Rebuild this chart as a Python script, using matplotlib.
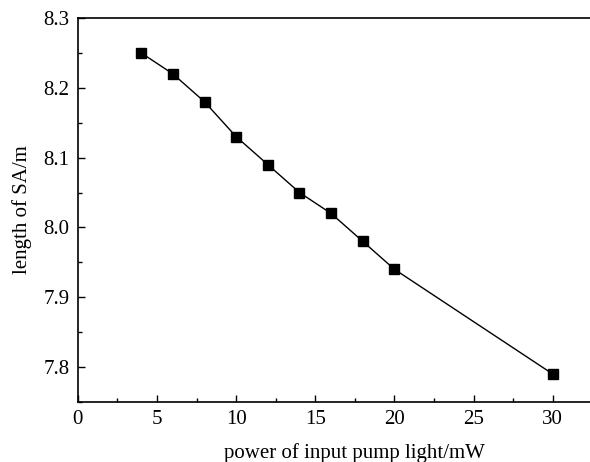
import matplotlib
matplotlib.use("Agg")
import matplotlib.pyplot as plt
from matplotlib.ticker import MultipleLocator

# pump power (mW) vs SA length (m)
power = [4, 6, 8, 10, 12, 14, 16, 18, 20, 30]
length = [8.25, 8.22, 8.18, 8.13, 8.09, 8.05, 8.02, 7.98, 7.94, 7.79]

plt.rcParams["font.family"] = ["Liberation Serif", "DejaVu Serif"]
plt.rcParams["font.size"] = 15

fig = plt.figure(figsize=(5.9, 4.62), dpi=100)
ax = fig.add_axes([0.132, 0.13, 0.939, 0.831])

ax.plot(power, length, color="black", linewidth=1, marker="s", markersize=7)

ax.set_xlim(0, 35)
ax.set_ylim(7.75, 8.3)
ax.set_xticks(range(0, 31, 5))
ax.xaxis.set_minor_locator(MultipleLocator(2.5))
ax.yaxis.set_major_locator(MultipleLocator(0.1))
ax.yaxis.set_minor_locator(MultipleLocator(0.05))
ax.yaxis.set_major_formatter(plt.FormatStrFormatter("%.1f"))
ax.tick_params(which="both", direction="in", top=False, right=False)
ax.tick_params(which="major", length=5, width=1, pad=6)
ax.tick_params(which="minor", length=3, width=1)
for s in ax.spines.values():
    s.set_linewidth(1.2)

ax.set_xlabel("power of input pump light/mW", labelpad=10)
ax.set_ylabel("length of SA/m", labelpad=8)

fig.savefig("out.png", dpi=100)
